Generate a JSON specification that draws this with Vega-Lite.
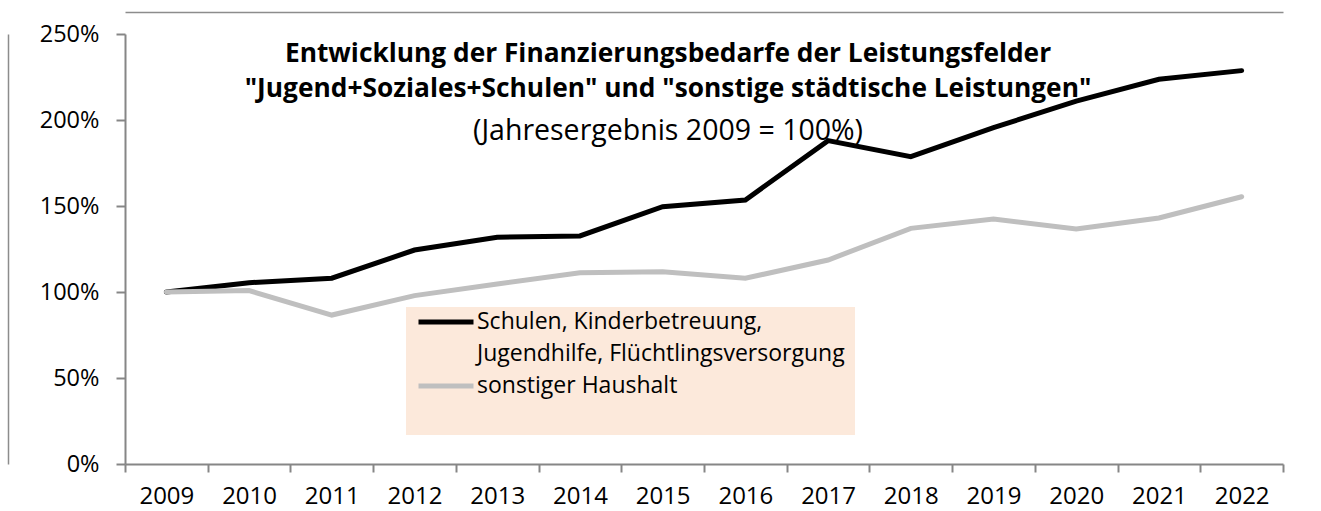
{
  "$schema": "https://vega.github.io/schema/vega-lite/v6.json",
  "autosize": {"type": "none"},
  "width": 1158,
  "height": 430,
  "padding": {"left": 125, "top": 34, "right": 38, "bottom": 47},
  "background": "#ffffff",
  "config": {
    "view": {"stroke": null},
    "font": "Open Sans",
    "style": {"guide-label": {"lineHeight": 32}}
  },
  "title": {
    "text": ["Entwicklung der Finanzierungsbedarfe der Leistungsfelder", "\"Jugend+Soziales+Schulen\" und \"sonstige städtische Leistungen\""],
    "subtitle": "(Jahresergebnis 2009 = 100%)",
    "anchor": "middle",
    "orient": "top",
    "baseline": "top",
    "dx": -36,
    "offset": -133,
    "font": "Open Sans",
    "fontSize": 26.3,
    "fontWeight": "bold",
    "color": "#000000",
    "lineHeight": 35,
    "subtitleFont": "Open Sans",
    "subtitleFontSize": 28.5,
    "subtitleColor": "#000000",
    "subtitlePadding": 14
  },
  "resolve": {"axis": {"x": "independent", "y": "independent"}},
  "data": {
    "values": [
      {"year": "2009", "series": "Schulen, Kinderbetreuung, Jugendhilfe, Flüchtlingsversorgung", "value": 1.0},
      {"year": "2010", "series": "Schulen, Kinderbetreuung, Jugendhilfe, Flüchtlingsversorgung", "value": 1.054},
      {"year": "2011", "series": "Schulen, Kinderbetreuung, Jugendhilfe, Flüchtlingsversorgung", "value": 1.08},
      {"year": "2012", "series": "Schulen, Kinderbetreuung, Jugendhilfe, Flüchtlingsversorgung", "value": 1.244},
      {"year": "2013", "series": "Schulen, Kinderbetreuung, Jugendhilfe, Flüchtlingsversorgung", "value": 1.318},
      {"year": "2014", "series": "Schulen, Kinderbetreuung, Jugendhilfe, Flüchtlingsversorgung", "value": 1.326},
      {"year": "2015", "series": "Schulen, Kinderbetreuung, Jugendhilfe, Flüchtlingsversorgung", "value": 1.496},
      {"year": "2016", "series": "Schulen, Kinderbetreuung, Jugendhilfe, Flüchtlingsversorgung", "value": 1.535},
      {"year": "2017", "series": "Schulen, Kinderbetreuung, Jugendhilfe, Flüchtlingsversorgung", "value": 1.88},
      {"year": "2018", "series": "Schulen, Kinderbetreuung, Jugendhilfe, Flüchtlingsversorgung", "value": 1.787},
      {"year": "2019", "series": "Schulen, Kinderbetreuung, Jugendhilfe, Flüchtlingsversorgung", "value": 1.955},
      {"year": "2020", "series": "Schulen, Kinderbetreuung, Jugendhilfe, Flüchtlingsversorgung", "value": 2.11},
      {"year": "2021", "series": "Schulen, Kinderbetreuung, Jugendhilfe, Flüchtlingsversorgung", "value": 2.237},
      {"year": "2022", "series": "Schulen, Kinderbetreuung, Jugendhilfe, Flüchtlingsversorgung", "value": 2.287},
      {"year": "2009", "series": "sonstiger Haushalt", "value": 1.0},
      {"year": "2010", "series": "sonstiger Haushalt", "value": 1.008},
      {"year": "2011", "series": "sonstiger Haushalt", "value": 0.866},
      {"year": "2012", "series": "sonstiger Haushalt", "value": 0.979},
      {"year": "2013", "series": "sonstiger Haushalt", "value": 1.047},
      {"year": "2014", "series": "sonstiger Haushalt", "value": 1.112},
      {"year": "2015", "series": "sonstiger Haushalt", "value": 1.118},
      {"year": "2016", "series": "sonstiger Haushalt", "value": 1.08},
      {"year": "2017", "series": "sonstiger Haushalt", "value": 1.186},
      {"year": "2018", "series": "sonstiger Haushalt", "value": 1.37},
      {"year": "2019", "series": "sonstiger Haushalt", "value": 1.425},
      {"year": "2020", "series": "sonstiger Haushalt", "value": 1.366},
      {"year": "2021", "series": "sonstiger Haushalt", "value": 1.43},
      {"year": "2022", "series": "sonstiger Haushalt", "value": 1.554}
    ]
  },
  "layer": [
    {
      "mark": {"type": "point", "opacity": 0},
      "encoding": {
        "x": {
          "field": "year",
          "type": "ordinal",
          "axis": {"orient": "top", "offset": 22, "title": null, "labels": false, "ticks": false, "domainColor": "#8C8C8C", "domainWidth": 1.5}
        },
        "y": {
          "field": "value",
          "type": "quantitative",
          "axis": {"orient": "left", "offset": 117, "title": null, "labels": false, "ticks": false, "grid": false, "domainColor": "#8C8C8C", "domainWidth": 1.5}
        }
      }
    },
    {
      "mark": {"type": "line", "strokeWidth": 5, "strokeCap": "round", "strokeJoin": "miter"},
      "encoding": {
        "x": {
          "field": "year",
          "type": "ordinal",
          "bandPosition": 0.5,
          "scale": {"type": "band", "paddingInner": 0, "paddingOuter": 0},
          "axis": {
            "orient": "bottom",
            "title": null,
            "labelAngle": 0,
            "tickBand": "extent",
            "domainColor": "#868686",
            "domainWidth": 2,
            "tickColor": "#868686",
            "tickWidth": 2,
            "tickSize": 8,
            "labelFont": "Open Sans",
            "labelFontSize": 24,
            "labelColor": "#000000",
            "labelPadding": 12,
            "labelBaseline": "top"
          }
        },
        "y": {
          "field": "value",
          "type": "quantitative",
          "scale": {"domain": [0, 2.5], "nice": false, "zero": true},
          "axis": {
            "orient": "left",
            "title": null,
            "values": [0, 0.5, 1, 1.5, 2, 2.5],
            "format": ".0%",
            "grid": false,
            "domainColor": "#868686",
            "domainWidth": 2,
            "tickColor": "#868686",
            "tickWidth": 2,
            "tickSize": 9,
            "labelFont": "Open Sans",
            "labelFontSize": 23.5,
            "labelColor": "#000000",
            "labelPadding": 17
          }
        },
        "color": {
          "field": "series",
          "type": "nominal",
          "title": " ",
          "scale": {
            "domain": ["Schulen, Kinderbetreuung, Jugendhilfe, Flüchtlingsversorgung", "sonstiger Haushalt"],
            "range": ["#000000", "#BFBFBF"]
          },
          "legend": {
            "orient": "none",
            "legendX": 281,
            "legendY": 273,
            "fillColor": "#FCE9DB",
            "padding": 10,
            "clipHeight": 10,
            "titleOrient": "bottom",
            "titleFontSize": 22,
            "titlePadding": 6,
            "symbolType": "stroke",
            "symbolSize": 3025,
            "symbolStrokeWidth": 5,
            "labelOffset": 1,
            "labelFont": "Open Sans",
            "labelFontSize": 23,
            "labelColor": "#000000",
            "labelLimit": 600,
            "rowPadding": 9,
            "labelExpr": "datum.label == 'Schulen, Kinderbetreuung, Jugendhilfe, Flüchtlingsversorgung' ? ['Schulen, Kinderbetreuung,', 'Jugendhilfe, Flüchtlingsversorgung'] : datum.label"
          }
        }
      }
    }
  ]
}
